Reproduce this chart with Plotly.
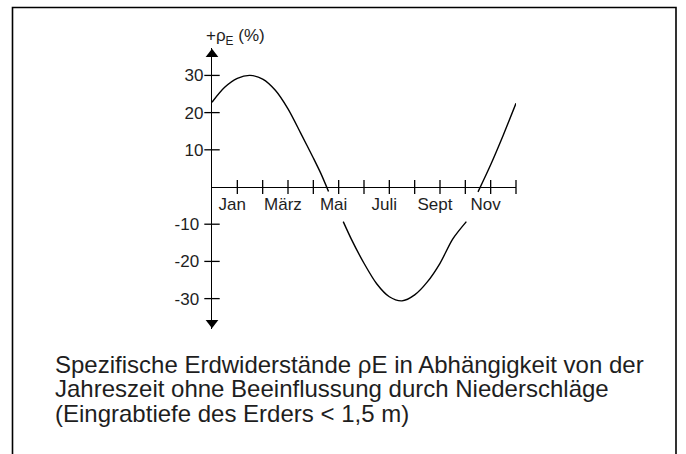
import plotly.graph_objects as go

# Seasonal deviation of specific earth resistance (percent), read per month position
# (0 = start of Jan axis, 12 = end of Dec). None splits the curve where the
# month labels sit on the axis.
month_pos = [0.0, 0.5, 1.0, 1.5, 2.0, 2.5, 3.0, 3.5, 4.0, 4.3, 4.6, None,
             5.18, 5.5, 6.0, 6.5, 7.0, 7.5, 8.0, 8.5, 9.0, 9.5, 10.04, None,
             10.5, 11.0, 11.5, 12.0]
rho_pct = [22.8, 26.8, 29.2, 30.0, 29.0, 26.0, 21.0, 14.5, 7.8, 3.6, -1.2, None,
           -9.3, -14.0, -20.5, -26.0, -29.5, -30.6, -29.0, -25.5, -20.5, -14.0, -9.3, None,
           -1.3, 6.0, 14.0, 22.5]

month_ticks = list(range(1, 13))
month_label_pos = [1, 3, 5, 7, 9, 11]
month_labels = ["Jan", "März", "Mai", "Juli", "Sept", "Nov"]
y_ticks = [-30, -20, -10, 10, 20, 30]
y_labels = ["-30\u2005", "-20\u2005", "-10\u2005", "10", "20", "30"]

caption_lines = [
    "Spezifische Erdwiderstände ρE in Abhängigkeit von der",
    "Jahreszeit ohne Beeinflussung durch Niederschläge",
    "(Eingrabtiefe des Erders &lt; 1,5 m)",
]

FONT = "Liberation Sans, Arial, Helvetica, sans-serif"
INK = "#1e1e1e"

W, H = 686, 454
L, R, T, B = 212, 170, 48, 125
PW, PH = W - L - R, H - T - B
X_RANGE = [0, 12]
Y_RANGE = [-38.17, 37.37]


def paper_x(px):
    return (px - L) / PW


def paper_y(py):
    return (H - B - py) / PH


fig = go.Figure()

# the curve
fig.add_trace(go.Scatter(
    x=month_pos, y=rho_pct, mode="lines",
    line=dict(color="black", width=1.4, shape="spline", smoothing=0.8),
    connectgaps=False, hoverinfo="skip", showlegend=False,
))

# tick marks crossing the horizontal axis
fig.add_trace(go.Scatter(
    x=month_ticks, y=[0] * len(month_ticks), mode="markers",
    marker=dict(symbol="line-ns", size=10, line=dict(color="black", width=1.3)),
    hoverinfo="skip", showlegend=False, cliponaxis=False,
))

# tick marks crossing the vertical axis
fig.add_trace(go.Scatter(
    x=[0] * len(y_ticks), y=y_ticks, mode="markers",
    marker=dict(symbol="line-ew", size=11, line=dict(color="black", width=1.3)),
    hoverinfo="skip", showlegend=False, cliponaxis=False,
))

# arrow heads at both ends of the vertical axis
arrow_off = 1.7
fig.add_trace(go.Scatter(
    x=[0, 0], y=[Y_RANGE[1] - arrow_off, Y_RANGE[0] + arrow_off], mode="markers",
    marker=dict(symbol=["triangle-up", "triangle-down"], size=11, color="black",
                line=dict(width=0)),
    hoverinfo="skip", showlegend=False, cliponaxis=False,
))

fig.update_xaxes(
    range=X_RANGE, showgrid=False, zeroline=False, showline=False,
    tickvals=[p - 0.2 for p in month_label_pos], ticktext=month_labels,
    ticks="", anchor="free",
    position=(0 - Y_RANGE[0]) / (Y_RANGE[1] - Y_RANGE[0]),
    tickfont=dict(family=FONT, size=17, color=INK),
    ticklabelstandoff=5,
)
fig.update_yaxes(
    range=Y_RANGE, showgrid=False, zeroline=True, zerolinecolor="black",
    zerolinewidth=1.3, showline=True, linecolor="black", linewidth=1.3,
    tickvals=y_ticks, ticktext=y_labels, ticks="",
    tickfont=dict(family=FONT, size=17, color=INK),
    ticklabelstandoff=4,
)

# open frame (left, top, right)
fig.add_shape(
    type="path", xref="paper", yref="paper",
    path=(f"M {paper_x(12.5)},{paper_y(454)} L {paper_x(12.5)},{paper_y(7.5)} "
          f"L {paper_x(676)},{paper_y(7.5)} L {paper_x(676)},{paper_y(454)}"),
    line=dict(color="black", width=1.6),
)

# axis title
fig.add_annotation(
    xref="paper", yref="paper", x=paper_x(204), y=paper_y(37),
    xanchor="left", yanchor="middle", showarrow=False,
    text="+ρ<sub>E</sub> (%)", font=dict(family=FONT, size=17, color=INK),
)

# caption, one annotation per line for tight line spacing
for i, line in enumerate(caption_lines):
    fig.add_annotation(
        xref="paper", yref="paper", x=paper_x(53), y=paper_y(364 + 24.6 * i),
        xanchor="left", yanchor="middle", align="left", showarrow=False,
        text=line, font=dict(family=FONT, size=24, color=INK),
    )

fig.update_layout(
    width=W, height=H,
    margin=dict(l=L, r=R, t=T, b=B, pad=0),
    paper_bgcolor="white", plot_bgcolor="white",
)

fig.write_html("out.html")
